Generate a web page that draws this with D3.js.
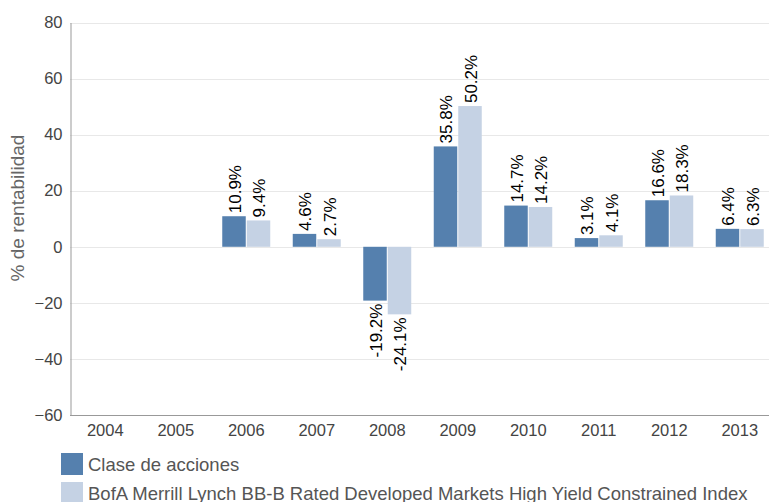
<!DOCTYPE html>
<html lang="es">
<head>
<meta charset="UTF-8">
<script src="https://d3js.org/d3.v7.min.js"></script>
<style>
  body { margin: 0; background: #fff; font-family: "Liberation Sans", Arial, sans-serif; }
  .grid line { stroke: #e8e8e8; }
  .tick text { fill: #444; font-size: 16.5px; }
</style>
</head>
<body>
<div id="chart"></div>
<script>
var years = ['2004','2005','2006','2007','2008','2009','2010','2011','2012','2013'];
var claseValues = [null, null, 10.9, 4.6, -19.2, 35.8, 14.7, 3.1, 16.6, 6.4];
var indexValues = [null, null, 9.4, 2.7, -24.1, 50.2, 14.2, 4.1, 18.3, 6.3];
var seriesNames = ['Clase de acciones', 'BofA Merrill Lynch BB-B Rated Developed Markets High Yield Constrained Index'];
var yTicks = [-60, -40, -20, 0, 20, 40, 60, 80];

var width = 769, height = 502;
var colors = ['#5580ae', '#c5d2e4'];

var svg = d3.select('#chart').append('svg')
    .attr('width', width).attr('height', height);

var x = d3.scaleBand().domain(years).range([70, 775]);
var y = d3.scaleLinear().domain([-60, 80]).range([415, 22.5]);
var inner = d3.scaleBand().domain([0, 1]).range([0, 49]);

// gridlines
svg.append('g').attr('class', 'grid')
    .selectAll('line').data(yTicks).enter().append('line')
    .attr('x1', 70).attr('x2', width)
    .attr('y1', function(d) { return Math.round(y(d)) + 0.5; })
    .attr('y2', function(d) { return Math.round(y(d)) + 0.5; });

// y axis
var yAxis = svg.append('g').attr('transform', 'translate(70.5,0)')
    .call(d3.axisLeft(y).tickValues(yTicks).tickSize(0).tickPadding(8));
yAxis.select('.domain').attr('stroke', '#999');

// x axis
var xAxis = svg.append('g').attr('transform', 'translate(0,415.5)')
    .call(d3.axisBottom(x).tickSize(0).tickPadding(9));
xAxis.select('.domain').attr('stroke', '#999').attr('d', 'M70,0H' + width);

svg.append('text')
    .attr('transform', 'translate(24,208) rotate(-90)')
    .attr('text-anchor', 'middle')
    .style('font-size', '19px').style('fill', '#666')
    .text('% de rentabilidad');

var rows = [];
years.forEach(function(yr, i) {
    [claseValues[i], indexValues[i]].forEach(function(v, s) {
        if (v !== null) rows.push({ year: yr, s: s, v: v });
    });
});

function bx(d) { return x(d.year) + x.bandwidth() / 2 - 24.5 + inner(d.s); }

svg.append('g').selectAll('rect').data(rows).enter().append('rect')
    .attr('x', function(d) { return bx(d) + 0.5; })
    .attr('width', inner.bandwidth() - 1)
    .attr('y', function(d) { return y(Math.max(0, d.v)); })
    .attr('height', function(d) { return Math.abs(y(d.v) - y(0)); })
    .attr('fill', function(d) { return colors[d.s]; });

svg.append('g').selectAll('text').data(rows).enter().append('text')
    .attr('transform', function(d) {
        var cx = bx(d) + inner.bandwidth() / 2 + 6.5;
        var cy = d.v >= 0 ? y(d.v) - 3 : y(d.v) + 3;
        return 'translate(' + cx + ',' + cy + ') rotate(-90)';
    })
    .attr('text-anchor', function(d) { return d.v >= 0 ? 'start' : 'end'; })
    .style('font-size', '17px').style('fill', '#000')
    .text(function(d) { return d.v.toFixed(1) + '%'; });

// legend
var legend = svg.append('g').selectAll('g').data(seriesNames).enter().append('g')
    .attr('transform', function(d, i) { return 'translate(61,' + (453 + i * 29) + ')'; });
legend.append('rect').attr('width', 22).attr('height', 22)
    .attr('fill', function(d, i) { return colors[i]; });
legend.append('text').attr('x', 27).attr('y', 18)
    .style('font-size', '18.5px').style('fill', '#555')
    .text(function(d) { return d; });
</script>
</body>
</html>
